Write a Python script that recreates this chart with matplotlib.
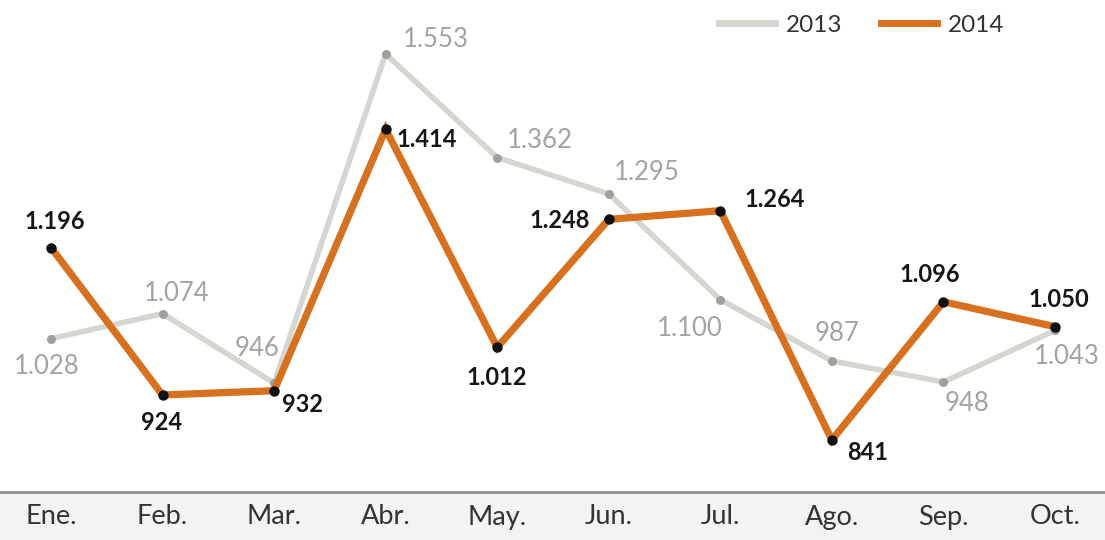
import matplotlib
matplotlib.use("Agg")
import matplotlib.pyplot as plt
from matplotlib.lines import Line2D
from matplotlib.patches import Rectangle

months = ["Ene.", "Feb.", "Mar.", "Abr.", "May.", "Jun.", "Jul.", "Ago.", "Sep.", "Oct."]
v2013 = [1028, 1074, 946, 1553, 1362, 1295, 1100, 987, 948, 1043]
v2014 = [1196, 924, 932, 1414, 1012, 1248, 1264, 841, 1096, 1050]
series_names = ["2013", "2014"]

# label placement (pixel offsets from the point, horizontal alignment)
off2013 = [(-4, -28, "center"), (14, 20, "center"), (-17, 35, "center"), (17, 14, "left"),
           (10, 17, "left"), (5, 21, "left"), (-31, -29, "center"), (5, 27, "center"),
           (24, -22, "center"), (12, -26, "center")]
off2014 = [(4, 26, "center"), (-1, -27, "center"), (8, -14, "left"), (11, -10, "left"),
           (0, -30, "center"), (-19, -1, "right"), (24, 11, "left"), (15, -12, "left"),
           (-14, 27, "center"), (4, 27, "center")]

C_ORANGE = "#d8711f"
C_GRAYLINE = "#d6d6d0"
C_GRAYPT = "#a0a0a0"
C_GRAYTXT = "#a3a3a3"

plt.rcParams["font.family"] = ["Lato", "DejaVu Sans"]

fig = plt.figure(figsize=(11.05, 5.4), dpi=100)
fig.patches.append(Rectangle((0, 0), 1, 48 / 540, transform=fig.transFigure,
                             facecolor="#f3f3f3", edgecolor="none", zorder=-5))
ax = fig.add_axes([0, 48 / 540, 1, 492 / 540])
ax.set_facecolor("white")
ax.set_xlim(-0.457, 9.448)
ax.set_ylim(745.1, 1652.6)

x = list(range(len(months)))
ax.plot(x, v2013, color=C_GRAYLINE, lw=4, solid_joinstyle="round", zorder=2)
ax.plot(x, v2013, ls="none", marker="o", ms=6.5, mfc=C_GRAYPT, mec="none", zorder=3)
ax.plot(x, v2014, color=C_ORANGE, lw=5.2, solid_joinstyle="miter", zorder=4)
ax.plot(x, v2014, ls="none", marker="o", ms=7.5, mfc="#111111", mec="none", zorder=5)

def fmt(v):
    return f"{v:,}".replace(",", ".")

for xi, v, (dx, dy, ha) in zip(x, v2013, off2013):
    ax.annotate(fmt(v), (xi, v), xytext=(dx, dy), textcoords="offset pixels",
                ha=ha, va="center", fontsize=18.5, fontweight="normal", color=C_GRAYTXT, zorder=6)
for xi, v, (dx, dy, ha) in zip(x, v2014, off2014):
    ax.annotate(fmt(v), (xi, v), xytext=(dx, dy), textcoords="offset pixels",
                ha=ha, va="center", fontsize=17, fontweight="bold", color="#161616", zorder=6)

for s in ["top", "left", "right"]:
    ax.spines[s].set_visible(False)
ax.spines["bottom"].set_color("#8f8f8f")
ax.spines["bottom"].set_linewidth(2)
ax.set_yticks([])
ax.set_xticks(x)
ax.set_xticklabels(months, fontsize=19.5, color="#333333")
ax.tick_params(axis="x", length=0, pad=9)

handles = [Line2D([], [], color=C_GRAYLINE, lw=5), Line2D([], [], color=C_ORANGE, lw=5)]
leg = ax.legend(handles, series_names, loc="upper right", bbox_to_anchor=(0.929, 1.015),
                ncol=2, frameon=False, fontsize=17.5, handlelength=2.3, handletextpad=0.45,
                columnspacing=1.6, labelcolor="#333333")

fig.savefig("out.png", dpi=100, facecolor="white")
